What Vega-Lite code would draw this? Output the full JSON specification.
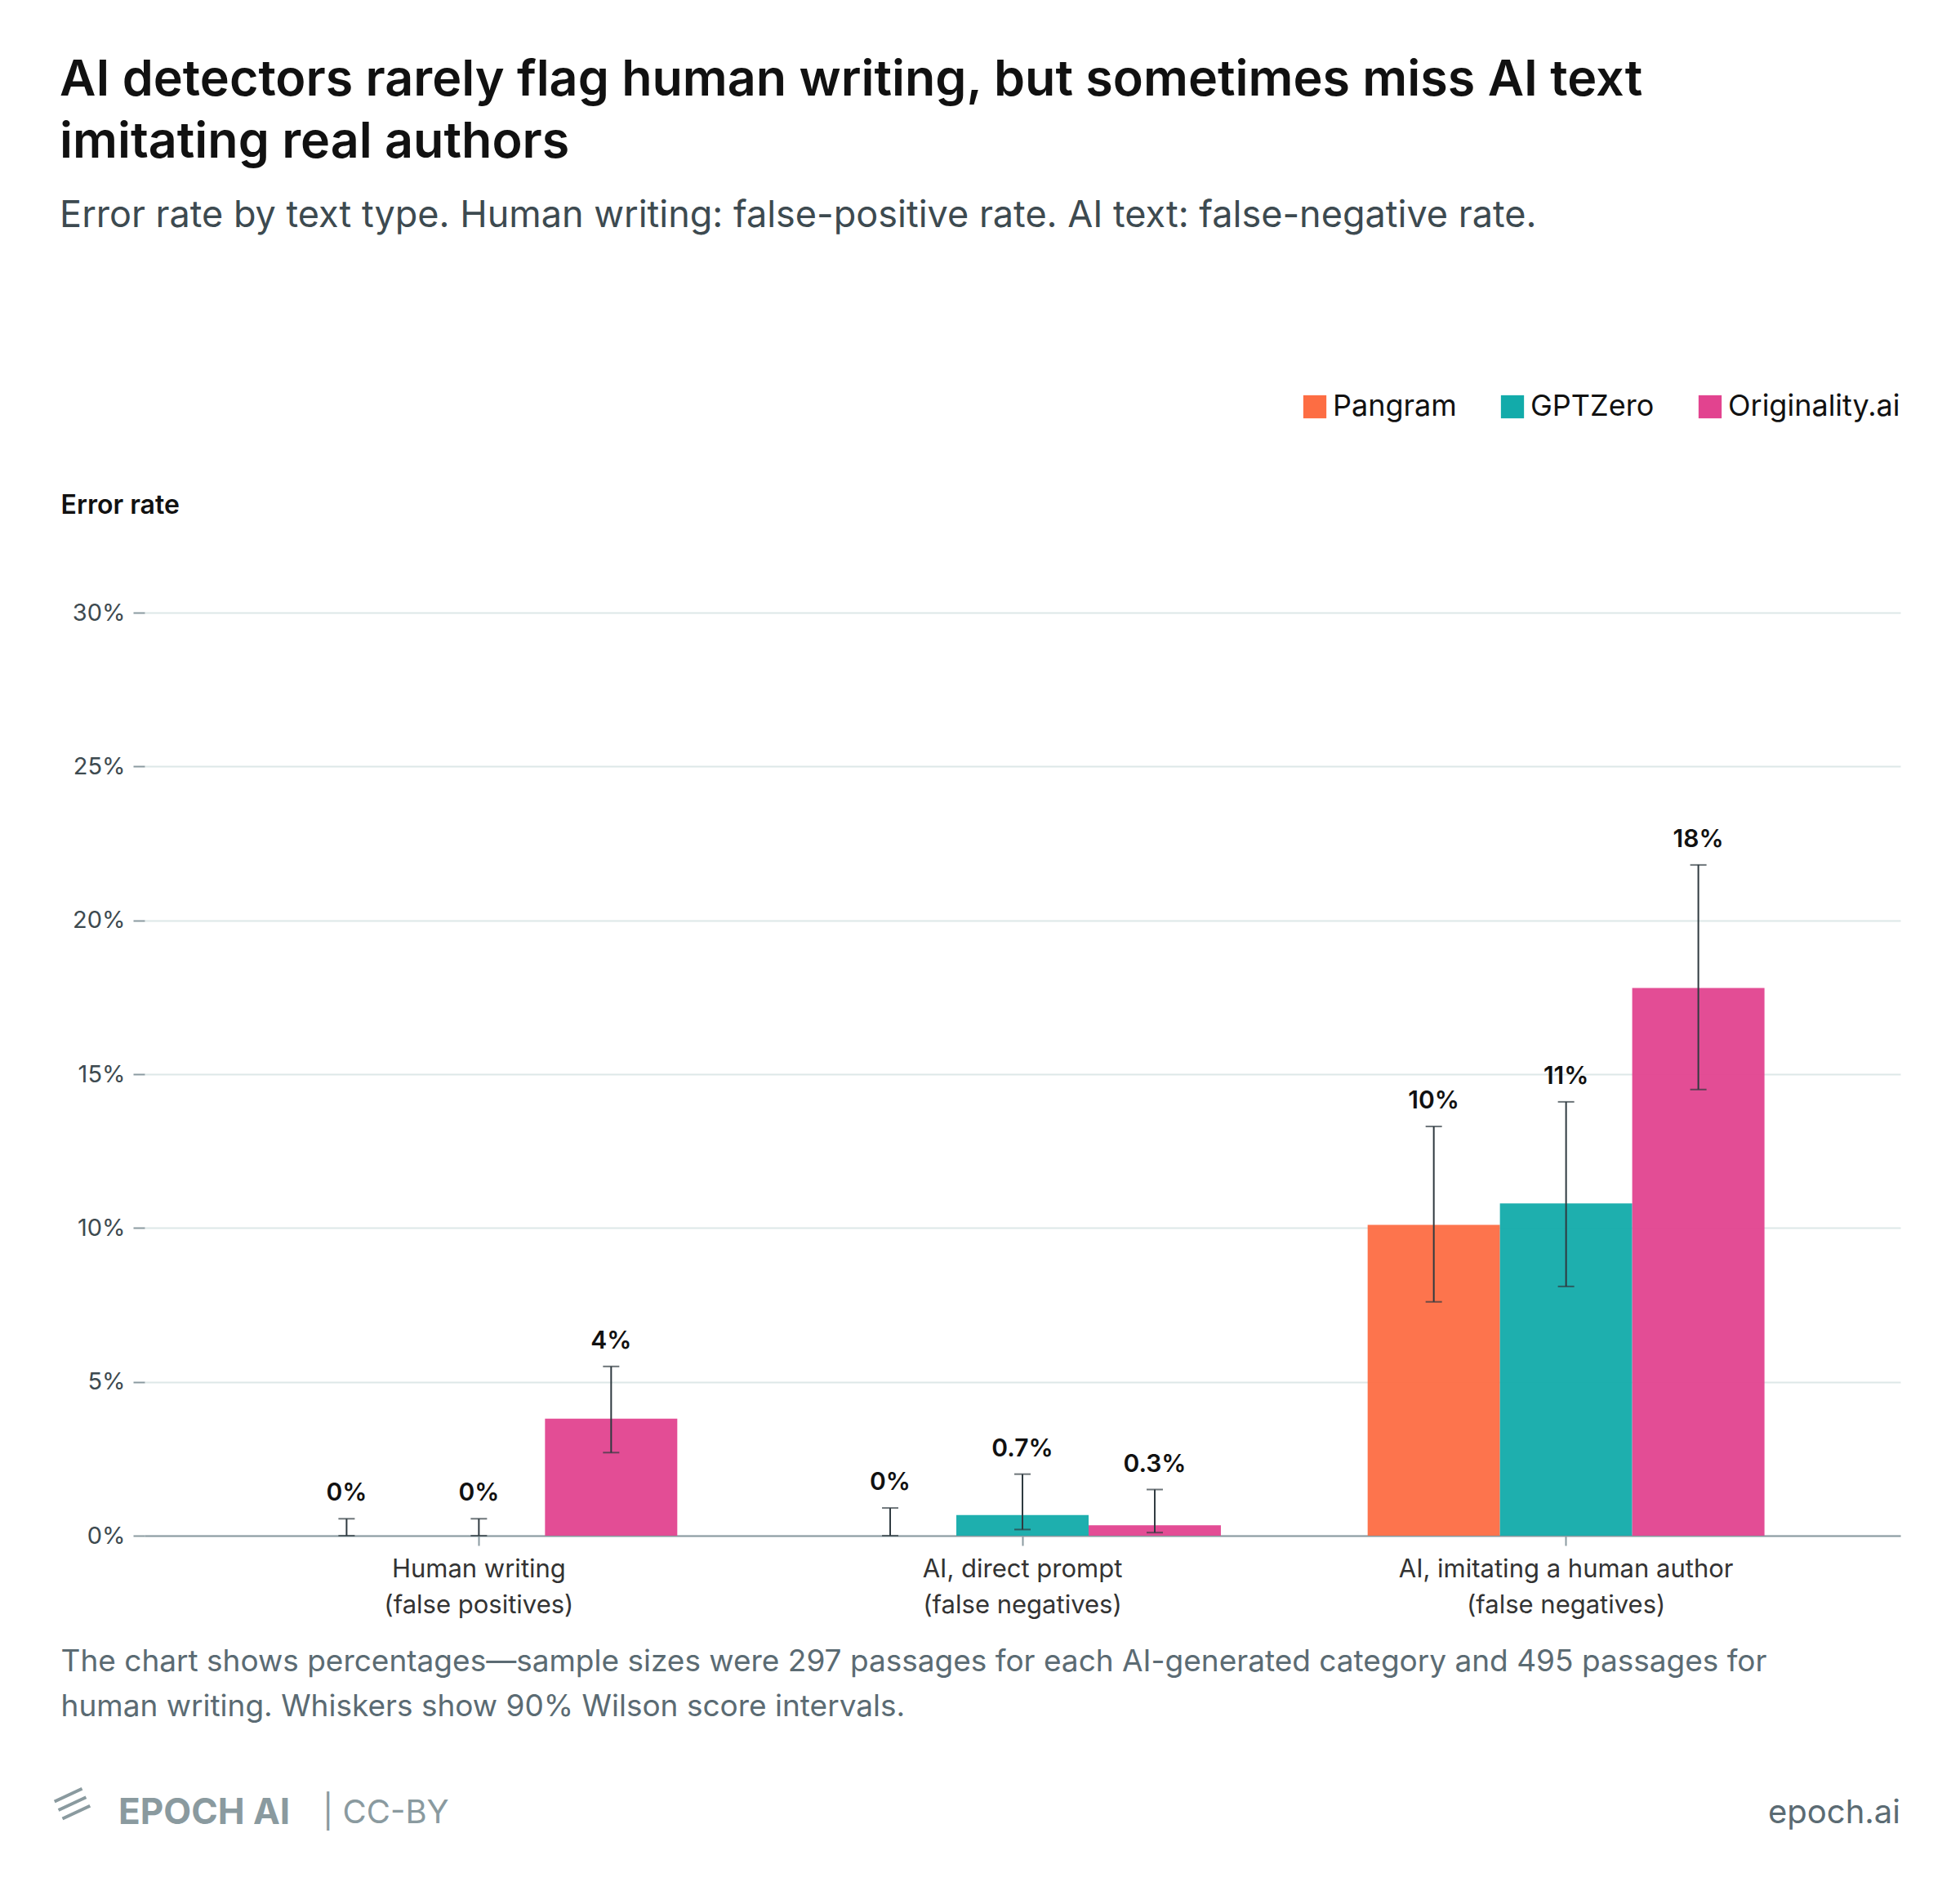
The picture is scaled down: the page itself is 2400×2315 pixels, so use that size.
{
"$schema":"https://vega.github.io/schema/vega-lite/v6.json",
"width":2150,"height":1130,
"autosize":{"type":"none"},
"padding":{"left":177,"top":750,"right":73,"bottom":435},
"background":"white",
"config":{"font":"Inter","view":{"stroke":null}},
"title":{"text":["AI detectors rarely flag human writing, but sometimes miss AI text","imitating real authors"],"subtitle":"Error rate by text type. Human writing: false-positive rate. AI text: false-negative rate.","anchor":"start","frame":"bounds","fontSize":61,"fontWeight":600,"lineHeight":76,"color":"#111","subtitleFontSize":45,"subtitleColor":"#3d4a50","subtitlePadding":36,"offset":192,"dx":21},
"data":{"values":[
{"cat":"Human writing|(false positives)","tool":"Pangram","v":0,"lo":0,"hi":0.0055,"lab":"0%"},
{"cat":"Human writing|(false positives)","tool":"GPTZero","v":0,"lo":0,"hi":0.0055,"lab":"0%"},
{"cat":"Human writing|(false positives)","tool":"Originality.ai","v":0.038,"lo":0.027,"hi":0.055,"lab":"4%"},
{"cat":"AI, direct prompt|(false negatives)","tool":"Pangram","v":0,"lo":0,"hi":0.009,"lab":"0%"},
{"cat":"AI, direct prompt|(false negatives)","tool":"GPTZero","v":0.0067,"lo":0.002,"hi":0.02,"lab":"0.7%"},
{"cat":"AI, direct prompt|(false negatives)","tool":"Originality.ai","v":0.0034,"lo":0.001,"hi":0.015,"lab":"0.3%"},
{"cat":"AI, imitating a human author|(false negatives)","tool":"Pangram","v":0.101,"lo":0.076,"hi":0.133,"lab":"10%"},
{"cat":"AI, imitating a human author|(false negatives)","tool":"GPTZero","v":0.108,"lo":0.081,"hi":0.141,"lab":"11%"},
{"cat":"AI, imitating a human author|(false negatives)","tool":"Originality.ai","v":0.178,"lo":0.145,"hi":0.218,"lab":"18%"}
]},
"encoding":{
"x":{"field":"cat","type":"nominal","sort":["Human writing|(false positives)","AI, direct prompt|(false negatives)","AI, imitating a human author|(false negatives)"],
 "scale":{"paddingInner":0.27,"paddingOuter":0.25},
 "axis":{"labelAngle":0,"labelLimit":0,"labelExpr":"split(datum.value,'|')","labelFontSize":31,"labelColor":"#333","labelLineHeight":44,"labelPadding":14,"domainColor":"#8a9aa0","domainWidth":2,"tickColor":"#8a9aa0","tickSize":12,"tickWidth":2,
 "title":["The chart shows percentages—sample sizes were 297 passages for each AI-generated category and 495 passages for","human writing. Whiskers show 90% Wilson score intervals."],
 "titleAnchor":"start","titleAlign":"left","titleBaseline":"top","titleX":-103,"titleY":136,"titleFontSize":37,"titleFontWeight":"normal","titleColor":"#5b6b73","titleLineHeight":55}},
"xOffset":{"field":"tool","type":"nominal","sort":["Pangram","GPTZero","Originality.ai"]}
},
"layer":[
{"mark":{"type":"bar","opacity":0.95},
 "encoding":{"y":{"field":"v","type":"quantitative","scale":{"domain":[0,0.3]},
  "axis":{"format":"%","values":[0,0.05,0.1,0.15,0.2,0.25,0.3],"domain":false,"gridColor":"#dde8e8","gridWidth":2,"tickColor":"#8a9aa0","tickSize":14,"tickWidth":2,"labelFontSize":29,"labelColor":"#3d4a50","labelPadding":10,
   "title":"Error rate","titleAngle":0,"titleAlign":"left","titleBaseline":"middle","titleX":-103,"titleY":-132,"titleFontSize":32,"titleFontWeight":600,"titleColor":"#111"}},
 "color":{"field":"tool","type":"nominal","sort":["Pangram","GPTZero","Originality.ai"],"scale":{"domain":["Pangram","GPTZero","Originality.ai"],"range":["#FD6D43","#12ABAA","#E2438F"]},
  "legend":{"title":null,"orient":"none","legendX":1415,"legendY":-270,"direction":"horizontal","symbolType":"square","symbolSize":800,"labelFontSize":36,"labelLimit":0,"labelColor":"#111","columnPadding":50,"symbolStrokeWidth":0,"symbolOpacity":1}}}},
{"mark":{"type":"rule","color":"#2f3a40","strokeWidth":2},"encoding":{"y":{"field":"lo","type":"quantitative"},"y2":{"field":"hi"}}},
{"mark":{"type":"tick","color":"#2f3a40","thickness":2,"size":20},"encoding":{"y":{"field":"lo","type":"quantitative"}}},
{"mark":{"type":"tick","color":"#2f3a40","thickness":2,"size":20},"encoding":{"y":{"field":"hi","type":"quantitative"}}},
{"mark":{"type":"text","baseline":"bottom","dy":-16,"fontSize":30,"fontWeight":600,"color":"#111"},"encoding":{"y":{"field":"hi","type":"quantitative"},"text":{"field":"lab"}}},
{"data":{"values":[{"t":"≡"}]},"mark":{"type":"text","align":"left","baseline":"middle","x":-108,"y":1470,"fontSize":80,"angle":-25,"color":"#8a9a9f"},"encoding":{"text":{"field":"t"},"x":null,"xOffset":null}},
{"data":{"values":[{"t":"EPOCH AI"}]},"mark":{"type":"text","align":"left","baseline":"middle","x":-32,"y":1470,"fontSize":44,"fontWeight":700,"color":"#8a9a9f"},"encoding":{"text":{"field":"t"},"x":null,"xOffset":null}},
{"data":{"values":[{"t":"| CC-BY"}]},"mark":{"type":"text","align":"left","baseline":"middle","x":218,"y":1470,"fontSize":40,"color":"#8a9a9f"},"encoding":{"text":{"field":"t"},"x":null,"xOffset":null}},
{"data":{"values":[{"t":"epoch.ai"}]},"mark":{"type":"text","align":"right","baseline":"middle","x":2150,"y":1470,"fontSize":40,"color":"#5b6b73"},"encoding":{"text":{"field":"t"},"x":null,"xOffset":null}}
]
}
